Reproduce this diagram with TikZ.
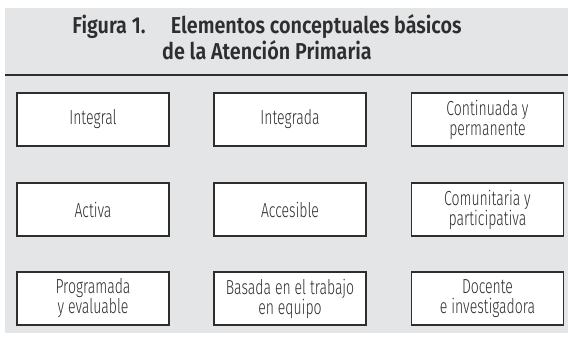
\documentclass[tikz,border=0pt]{standalone}
\usepackage{fontspec}
\newfontfamily\boxfont{Fira Sans Light}[FakeStretch=0.69]
\newfontfamily\titlefont{Fira Sans SemiBold}[FakeStretch=0.86]
\definecolor{bggray}{HTML}{E4E5E7}
\definecolor{ink}{HTML}{2E2E2E}
\tikzset{
  cell/.style={draw=ink, line width=1.1pt, fill=white, minimum width=152pt,
    minimum height=53pt, inner sep=0pt, align=center, text=ink,
    font=\boxfont\fontsize{20.3}{20}\selectfont},
  titletext/.style={align=center, text=ink, inner sep=0pt,
    font=\titlefont\fontsize{23}{26}\selectfont}
}
\begin{document}
\begin{tikzpicture}[x=1pt,y=1pt]
\useasboundingbox (0,0) rectangle (568,-337);
\fill[white] (0,0) rectangle (568,-337);
\fill[bggray] (5,-8) rectangle (568,-333);
\node[titletext] (title) at (267,-37) {Figura 1.\hspace{1.1em}Elementos conceptuales básicos\\de la Atención Primaria};
\coordinate (ruleL) at (5,-75);
\coordinate (ruleR) at (568,-75);
\draw[ink, line width=2.2pt] (ruleL) -- (ruleR);
\node[cell] (a1) at (93,-119.5) {Integral};
\node[cell] (a2) at (290,-119.5) {Integrada};
\node[cell] (a3) at (487.5,-119.5) {Continuada y\\permanente};
\node[cell] (b1) at (93,-209.5) {Activa};
\node[cell] (b2) at (290,-209.5) {Accesible};
\node[cell] (b3) at (487.5,-209.5) {Comunitaria y\\participativa};
\node[cell] (c1) at (93,-298.5) {Programada\\y evaluable};
\node[cell] (c2) at (290,-298.5) {Basada en el trabajo\\en equipo};
\node[cell] (c3) at (487.5,-298.5) {Docente\\e investigadora};
\end{tikzpicture}
\end{document}
